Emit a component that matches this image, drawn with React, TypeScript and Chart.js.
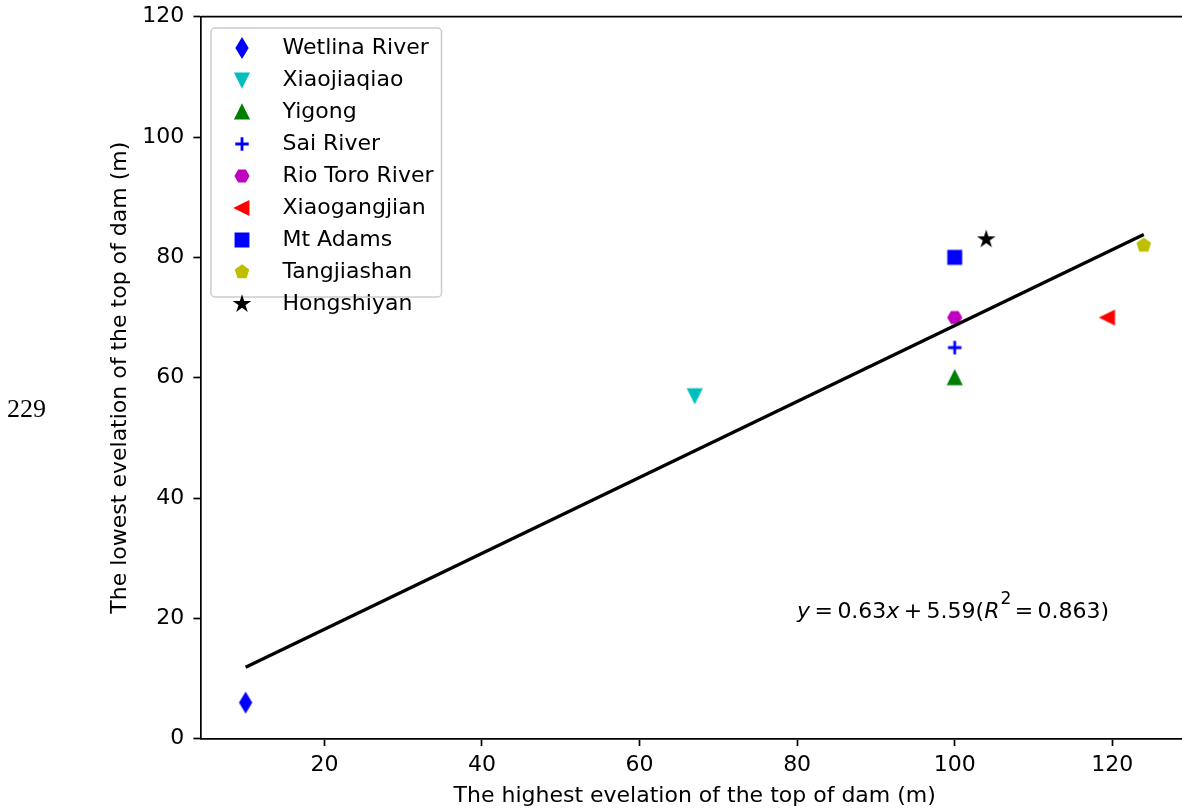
import React, { useEffect, useRef } from "react";
import { Chart, registerables } from "chart.js";

Chart.register(...registerables);

// ---------------- data ----------------
const seriesNames = [
  "Wetlina River",
  "Xiaojiaqiao",
  "Yigong",
  "Sai River",
  "Rio Toro River",
  "Xiaogangjian",
  "Mt Adams",
  "Tangjiashan",
  "Hongshiyan",
];
const seriesX = [10, 67, 100, 100, 100, 119.4, 100, 124, 104];
const seriesY = [6, 57, 60, 65, 70, 70, 80, 82, 83];
const seriesColors = [
  "#0000ff",
  "#00bfbf",
  "#008000",
  "#0000ff",
  "#bf00bf",
  "#ff0000",
  "#0000ff",
  "#bfbf00",
  "#000000",
];
const seriesMarkers = [
  "thinDiamond",
  "triangleDown",
  "triangleUp",
  "plus",
  "hexagon",
  "triangleLeft",
  "square",
  "pentagon",
  "star",
];
const fitX = [10, 124];
const fitY = [11.89, 83.8];
const xTicks = [20, 40, 60, 80, 100, 120];
const yTicks = [0, 20, 40, 60, 80, 100, 120];
const xRange = [4.3, 129.7];
const yRange = [0, 120];
const xTitle = "The highest evelation of the top of dam (m)";
const yTitle = "The lowest evelation of the top of dam (m)";
// [text, style]: n normal, i italic, s superscript, b spaced operator
const equationParts: [string, string][] = [
  ["y", "i"],
  ["=", "b"],
  ["0.63", "n"],
  ["x", "i"],
  ["+", "b"],
  ["5.59(", "n"],
  ["R", "i"],
  ["2", "s"],
  ["=", "b"],
  ["0.863)", "n"],
];
const equationAt = [80, 20];
const pageNumber = "229";

// ---------------- styles ----------------
const FONT = "DejaVu Sans";
const FS = 22;
const MARKER = 12.8;
const EDGE = 2.1;

function makeMarker(kind: string, color: string): HTMLCanvasElement {
  const dim = 32;
  const c = document.createElement("canvas");
  c.width = dim;
  c.height = dim;
  const ctx = c.getContext("2d")!;
  ctx.translate(dim / 2, dim / 2);
  ctx.fillStyle = color;
  ctx.strokeStyle = color;
  ctx.lineWidth = EDGE;
  ctx.lineJoin = "miter";
  const r = MARKER / 2;
  ctx.beginPath();
  const poly = (pts: number[][]) => {
    pts.forEach((p, i) => (i === 0 ? ctx.moveTo(p[0], p[1]) : ctx.lineTo(p[0], p[1])));
    ctx.closePath();
  };
  switch (kind) {
    case "thinDiamond": {
      const h = r * Math.SQRT2;
      const w = h * 0.6;
      poly([[0, -h], [w, 0], [0, h], [-w, 0]]);
      break;
    }
    case "triangleUp":
      poly([[0, -r], [r, r], [-r, r]]);
      break;
    case "triangleDown":
      poly([[0, r], [r, -r], [-r, -r]]);
      break;
    case "triangleLeft":
      poly([[-r, 0], [r, -r], [r, r]]);
      break;
    case "square":
      poly([[-r, -r], [r, -r], [r, r], [-r, r]]);
      break;
    case "hexagon": {
      const pts = [];
      for (let k = 0; k < 6; k++) {
        const a = (k * Math.PI) / 3;
        pts.push([r * Math.cos(a), r * Math.sin(a)]);
      }
      poly(pts);
      break;
    }
    case "pentagon": {
      const pts = [];
      for (let k = 0; k < 5; k++) {
        const a = -Math.PI / 2 + (k * 2 * Math.PI) / 5;
        pts.push([r * Math.cos(a), r * Math.sin(a)]);
      }
      poly(pts);
      break;
    }
    case "star": {
      const pts = [];
      for (let k = 0; k < 10; k++) {
        const a = -Math.PI / 2 + (k * Math.PI) / 5;
        const rr = k % 2 === 0 ? r : r * 0.381966;
        pts.push([rr * Math.cos(a), rr * Math.sin(a)]);
      }
      poly(pts);
      break;
    }
    case "plus": {
      const p = r + 0.3;
      ctx.moveTo(-p, 0);
      ctx.lineTo(p, 0);
      ctx.moveTo(0, -p);
      ctx.lineTo(0, p);
      ctx.lineCap = "butt";
      ctx.lineWidth = 2.8;
      ctx.stroke();
      return c;
    }
  }
  ctx.fill();
  ctx.stroke();
  return c;
}

const framePlugin = {
  id: "frame",
  beforeDatasetsDraw(chart: any) {
    const { ctx, chartArea } = chart;
    ctx.save();
    ctx.strokeStyle = "#000";
    ctx.lineWidth = 1.7;
    ctx.beginPath();
    ctx.moveTo(chartArea.left, chartArea.top);
    ctx.lineTo(chartArea.right, chartArea.top);
    ctx.lineTo(chartArea.right, chartArea.bottom);
    ctx.stroke();
    ctx.restore();
  },
};

const equationPlugin = {
  id: "equation",
  afterDatasetsDraw(chart: any) {
    const { ctx } = chart;
    const xs = chart.scales.x;
    const ys = chart.scales.y;
    let x = xs.getPixelForValue(equationAt[0]);
    const base = ys.getPixelForValue(equationAt[1]) - 0.7;
    ctx.save();
    ctx.fillStyle = "#000";
    ctx.textBaseline = "alphabetic";
    ctx.textAlign = "left";
    const sp = 4.4;
    for (const [t, s] of equationParts) {
      if (s === "b") {
        ctx.font = `${FS}px "${FONT}"`;
        x += sp;
        ctx.fillText(t, x, base);
        x += ctx.measureText(t).width + sp;
      } else if (s === "s") {
        ctx.font = `${FS * 0.78}px "${FONT}"`;
        ctx.fillText(t, x + 1, base - 14);
        x += ctx.measureText(t).width;
      } else {
        ctx.font = `${s === "i" ? "oblique " : ""}${FS}px "${FONT}"`;
        ctx.fillText(t, x, base);
        x += ctx.measureText(t).width;
      }
    }
    ctx.restore();
  },
};

const legendPlugin = {
  id: "boxLegend",
  afterDraw(chart: any) {
    const { ctx, chartArea } = chart;
    const items = chart.data.datasets.filter((d: any) => !d.isFit);
    const bx = chartArea.left + 10.3;
    const by = chartArea.top + 11.3;
    const bw = 230.5;
    const rowH = 32;
    const bh = 269;
    ctx.save();
    ctx.beginPath();
    ctx.roundRect(bx, by, bw, bh, 4);
    ctx.fillStyle = "rgba(255,255,255,0.8)";
    ctx.fill();
    ctx.strokeStyle = "#cccccc";
    ctx.lineWidth = 1.5;
    ctx.stroke();
    ctx.font = `${FS}px "${FONT}"`;
    ctx.fillStyle = "#000";
    ctx.textBaseline = "middle";
    ctx.textAlign = "left";
    items.forEach((d: any, i: number) => {
      const cy = by + 20.3 + i * rowH;
      const img = d.pointStyle as HTMLCanvasElement;
      ctx.drawImage(img, Math.round(bx + 31.3 - img.width / 2), Math.round(cy - img.height / 2));
      ctx.fillText(d.label, bx + 71.5, cy + 0.3);
    });
    ctx.restore();
  },
};

const zeroPad = (s: any) => {
  s.paddingTop = 0;
  s.paddingBottom = 0;
  s.paddingLeft = 0;
  s.paddingRight = 0;
};

export default function App() {
  const ref = useRef<HTMLCanvasElement>(null);
  useEffect(() => {
    const canvas = ref.current!;
    const markers = seriesNames.map((_, i) => makeMarker(seriesMarkers[i], seriesColors[i]));
    const datasets: any[] = [
      {
        label: "fit",
        isFit: true,
        data: fitX.map((x, i) => ({ x, y: fitY[i] })),
        showLine: true,
        borderColor: "#000",
        borderWidth: 3.3,
        pointRadius: 0,
        fill: false,
      },
      ...seriesNames.map((name, i) => ({
        label: name,
        data: [{ x: seriesX[i], y: seriesY[i] }],
        pointStyle: markers[i],
        pointRadius: 8,
        backgroundColor: seriesColors[i],
        borderColor: seriesColors[i],
      })),
    ];
    const tickFont = { family: FONT, size: FS };
    const chart = new Chart(canvas, {
      type: "scatter",
      data: { datasets },
      options: {
        animation: false,
        responsive: false,
        devicePixelRatio: 1,
        events: [],
        layout: { padding: { left: 0, top: 16.7, right: 11.3, bottom: 0 } },
        plugins: { legend: { display: false }, tooltip: { enabled: false } },
        scales: {
          x: {
            type: "linear",
            min: xRange[0],
            max: xRange[1],
            afterBuildTicks: (s: any) => {
              s.ticks = xTicks.map((value) => ({ value }));
            },
            afterFit: (s: any) => {
              s.height = 69.3;
              zeroPad(s);
            },
            ticks: { font: tickFont, color: "#000", padding: 6, maxRotation: 0, autoSkip: false },
            grid: { drawOnChartArea: false, drawTicks: true, tickLength: 7.3, color: "#000", tickWidth: 1.7 },
            border: { display: true, color: "#000", width: 1.7 },
            title: { display: true, text: xTitle, color: "#000", font: tickFont, padding: { top: 0, bottom: -1.5 } },
          },
          y: {
            type: "linear",
            min: yRange[0],
            max: yRange[1],
            afterBuildTicks: (s: any) => {
              s.ticks = yTicks.map((value) => ({ value }));
            },
            afterFit: (s: any) => {
              s.width = 200.7;
              zeroPad(s);
            },
            ticks: { font: tickFont, color: "#000", padding: 9.2, autoSkip: false },
            grid: { drawOnChartArea: false, drawTicks: true, tickLength: 7.3, color: "#000", tickWidth: 1.7 },
            border: { display: true, color: "#000", width: 1.7 },
            title: { display: true, text: yTitle, color: "#000", font: tickFont, padding: { top: 107.3, bottom: 0 } },
          },
        },
      },
      plugins: [framePlugin, equationPlugin, legendPlugin],
    } as any);
    return () => chart.destroy();
  }, []);

  return (
    <div
      style={{
        position: "absolute",
        left: 0,
        top: 0,
        width: 1182,
        height: 808,
        overflow: "hidden",
        background: "#fff",
      }}
    >
      <canvas ref={ref} width={1200} height={808} style={{ position: "absolute", left: 0, top: 0, width: 1200, height: 808 }} />
      <div
        style={{
          position: "absolute",
          left: 7,
          top: 395.5,
          fontFamily: '"Liberation Serif", serif',
          fontSize: 26,
          lineHeight: "26px",
          color: "#000",
          whiteSpace: "nowrap",
        }}
      >
        {pageNumber}
      </div>
    </div>
  );
}
